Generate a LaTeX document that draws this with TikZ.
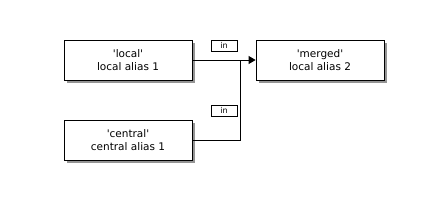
\documentclass[tikz,border=0pt]{standalone}
\usepackage{fontspec}
\setmainfont{DejaVu Sans}
\usetikzlibrary{shadows,arrows.meta}
\newcommand{\sq}{\textquotesingle}
\begin{document}
\begin{tikzpicture}[x=1pt,y=-1pt,
  block/.style={draw=black, line width=0.8pt, fill=white, minimum width=128pt, minimum height=40pt,
    inner sep=0pt, align=center, font=\fontsize{10.5}{13}\selectfont,
    drop shadow={shadow xshift=3pt, shadow yshift=-3pt, fill=black!60, opacity=0.7}},
  tag/.style={draw=black, line width=0.6pt, fill=white, minimum width=26pt, minimum height=11pt,
    inner sep=0pt, font=\fontsize{8}{8}\selectfont},
  conn/.style={line width=0.8pt}
]
\useasboundingbox (0,0) rectangle (448,200);
\node[block] (local) at (128,60) {\sq local\sq\\local alias 1};
\node[block] (central) at (128,140) {\sq central\sq\\central alias 1};
\node[block] (merged) at (320,60) {\sq merged\sq\\local alias 2};
\node[tag] (tag1) at (224,45.5) {in};
\node[tag] (tag2) at (224,110.5) {in};
\coordinate (j) at (240,60);
\draw[conn,-{Triangle[length=7pt,width=8pt]}] (local.east) -- (merged.west);
\draw[conn] (central.east) -| (j);
\end{tikzpicture}
\end{document}
